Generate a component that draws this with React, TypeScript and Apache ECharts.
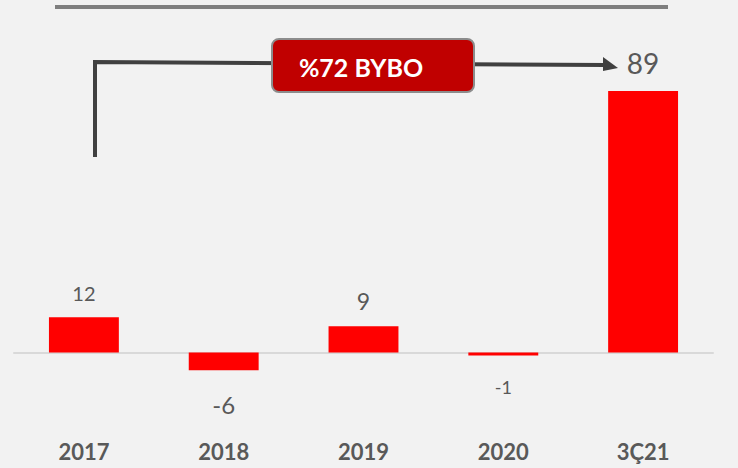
import React, { useEffect, useRef } from "react";
import * as echarts from "echarts";

const categories = ["2017", "2018", "2019", "2020", "3Ç21"];
const values = [12, -6, 9, -1, 89];
const labelSizes = [20, 24, 23, 18, 28];
const annotationText = "%72 BYBO";

export default function App() {
  const ref = useRef<HTMLDivElement>(null);
  useEffect(() => {
    if (!ref.current) return;
    const chart = echarts.init(ref.current, null, { renderer: "svg" });
    const data = values.map((v, i) => ({
      value: v,
      label: {
        show: true,
        position: v >= 0 ? "top" : "bottom",
        distance: v >= 0 ? 14 : 22,
        fontSize: labelSizes[i],
        color: "#595959",
        fontFamily: "Lato",
      },
    }));
    chart.setOption({
      animation: false,
      backgroundColor: "#f2f2f2",
      grid: {
        left: 14,
        right: 25,
        top: 91,
        bottom: 86,
        containLabel: false,
        outerBoundsMode: "none",
      },
      xAxis: {
        type: "category",
        data: categories,
        axisLine: { onZero: true, lineStyle: { color: "#d9d9d9", width: 2 } },
        axisTick: { show: false },
        axisLabel: {
          margin: 58,
          fontSize: 22,
          fontWeight: "bold",
          color: "#595959",
          fontFamily: "Lato",
        },
      },
      yAxis: {
        type: "value",
        min: -10,
        max: 89,
        show: false,
        splitLine: { show: false },
      },
      series: [
        {
          type: "bar",
          data,
          barWidth: "50%",
          itemStyle: { color: "#ff0000" },
        },
      ],
      graphic: [
        {
          type: "line",
          shape: { x1: 55, y1: 7, x2: 668, y2: 7 },
          style: { stroke: "#7f7f7f", lineWidth: 4 },
        },
        {
          type: "polyline",
          shape: { points: [[95, 157], [95, 62], [606, 65]] },
          style: { stroke: "#404040", lineWidth: 4, fill: null },
        },
        {
          type: "polygon",
          shape: { points: [[603, 57], [618, 68], [603, 71]] },
          style: { fill: "#404040" },
        },
        {
          type: "rect",
          shape: { x: 272, y: 39, width: 202, height: 53, r: 7 },
          style: { fill: "#c00000", stroke: "#8c8c8c", lineWidth: 2 },
        },
        {
          type: "text",
          x: 361,
          y: 67,
          style: {
            text: annotationText,
            fill: "#ffffff",
            fontSize: 25,
            fontWeight: "bold",
            fontFamily: "Lato",
            align: "center",
            verticalAlign: "middle",
          },
        },
      ],
    });
    return () => chart.dispose();
  }, []);
  return (
    <div style={{ position: "fixed", left: 0, top: 0, width: 738, height: 468 }}>
      <div ref={ref} style={{ width: 738, height: 468 }} />
    </div>
  );
}
